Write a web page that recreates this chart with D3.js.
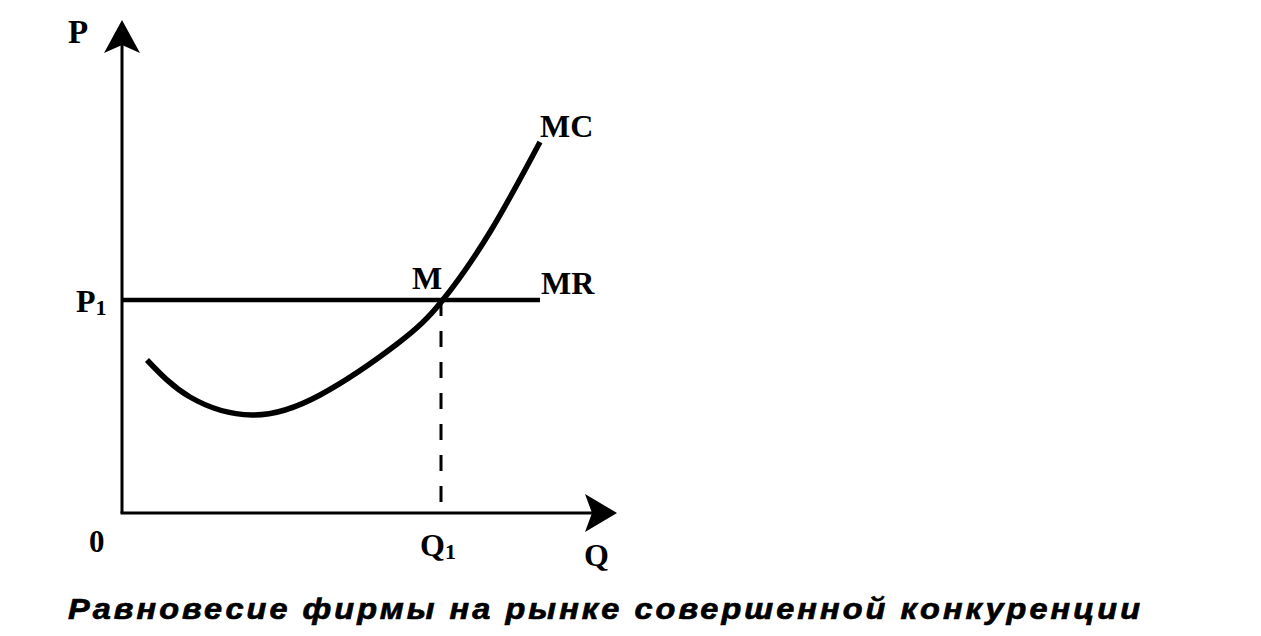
<!DOCTYPE html>
<html><head><meta charset="utf-8">
<script src="https://cdn.jsdelivr.net/npm/d3@7"></script>
<style>
html,body{margin:0;padding:0;background:#fff;}
svg{display:block;}
.lbl{font-family:"Liberation Serif","Times New Roman",serif;font-weight:bold;fill:#000;}
.cap{font-family:"Liberation Sans",Arial,sans-serif;font-weight:bold;font-style:italic;fill:#000;stroke:#000;stroke-width:0.7;}
</style></head>
<body>
<svg id="c" width="1261" height="636"></svg>
<script>
// Data (Q, P in arbitrary units)
const mcQ = [0.5, 1.36, 2.6, 3.96, 5.5, 6.4, 7.36, 8.36];
const mcP = [3.06, 2.32, 1.96, 2.36, 3.38, 4.24, 5.62, 7.42];
const mrP = 4.26;         // P1
const mrQ = [0, 8.36];    // MR extent
const q1 = 6.38;          // Q1
const axisMax = {q: 9.9, p: 9.86};
const caption = "Равновесие фирмы на рынке совершенной конкуренции";

const svg = d3.select("#c");
const x = d3.scaleLinear().domain([0, 10]).range([122, 622]);
const y = d3.scaleLinear().domain([0, 10]).range([513, 13]);

// axes
svg.append("line").attr("x1", x(0)).attr("y1", y(0)).attr("x2", x(0)).attr("y2", y(axisMax.p) + 10)
  .attr("stroke", "#000").attr("stroke-width", 3);
svg.append("line").attr("x1", x(0) - 1.5).attr("y1", y(0)).attr("x2", x(axisMax.q) - 10).attr("y2", y(0))
  .attr("stroke", "#000").attr("stroke-width", 3);
// arrowheads
const ty = [x(0), y(axisMax.p)];
svg.append("path").attr("d", `M${ty[0]},${ty[1]} L${ty[0]+18},${ty[1]+33} L${ty[0]},${ty[1]+25} L${ty[0]-18},${ty[1]+33} Z`).attr("fill", "#000");
const tx = [x(axisMax.q), y(0)];
svg.append("path").attr("d", `M${tx[0]},${tx[1]} L${tx[0]-32},${tx[1]-19} L${tx[0]-25},${tx[1]} L${tx[0]-32},${tx[1]+19} Z`).attr("fill", "#000");

// MR line
svg.append("line").attr("x1", x(mrQ[0])).attr("x2", x(mrQ[1])).attr("y1", y(mrP)).attr("y2", y(mrP))
  .attr("stroke", "#000").attr("stroke-width", 4.5);

// dashed Q1 line
svg.append("line").attr("x1", x(q1)).attr("x2", x(q1)).attr("y1", y(mrP)).attr("y2", y(0))
  .attr("stroke", "#000").attr("stroke-width", 3).attr("stroke-dasharray", "16,15");

// MC curve
const line = d3.line().x(d => x(d[0])).y(d => y(d[1])).curve(d3.curveNatural);
svg.append("path").datum(mcQ.map((q, i) => [q, mcP[i]])).attr("d", line)
  .attr("fill", "none").attr("stroke", "#000").attr("stroke-width", 5.5).attr("stroke-linecap", "butt");

// labels
function lbl(t, px, py, size, anchor) {
  return svg.append("text").attr("class", "lbl").attr("x", px).attr("y", py)
    .attr("font-size", size).attr("text-anchor", anchor || "start").text(t);
}
lbl("P", 68, 43, 33);
const p1 = lbl("P", 76, 312, 32); p1.append("tspan").attr("font-size", 22).attr("dy", 3).text("1");
lbl("0", 89, 552, 31);
const qq = lbl("Q", 420, 556, 32); qq.append("tspan").attr("font-size", 22).attr("dy", 3).text("1");
lbl("Q", 584, 566, 32);
lbl("MC", 540, 137, 32);
lbl("M", 412, 289, 32);
lbl("MR", 541, 294, 32);

const sx = 1.12;
svg.append("text").attr("class", "cap").attr("transform", `scale(${sx},1)`)
  .attr("x", 68 / sx).attr("y", 619).attr("font-size", 29)
  .attr("textLength", 1072 / sx).attr("lengthAdjust", "spacing").text(caption);
</script>
</body></html>
